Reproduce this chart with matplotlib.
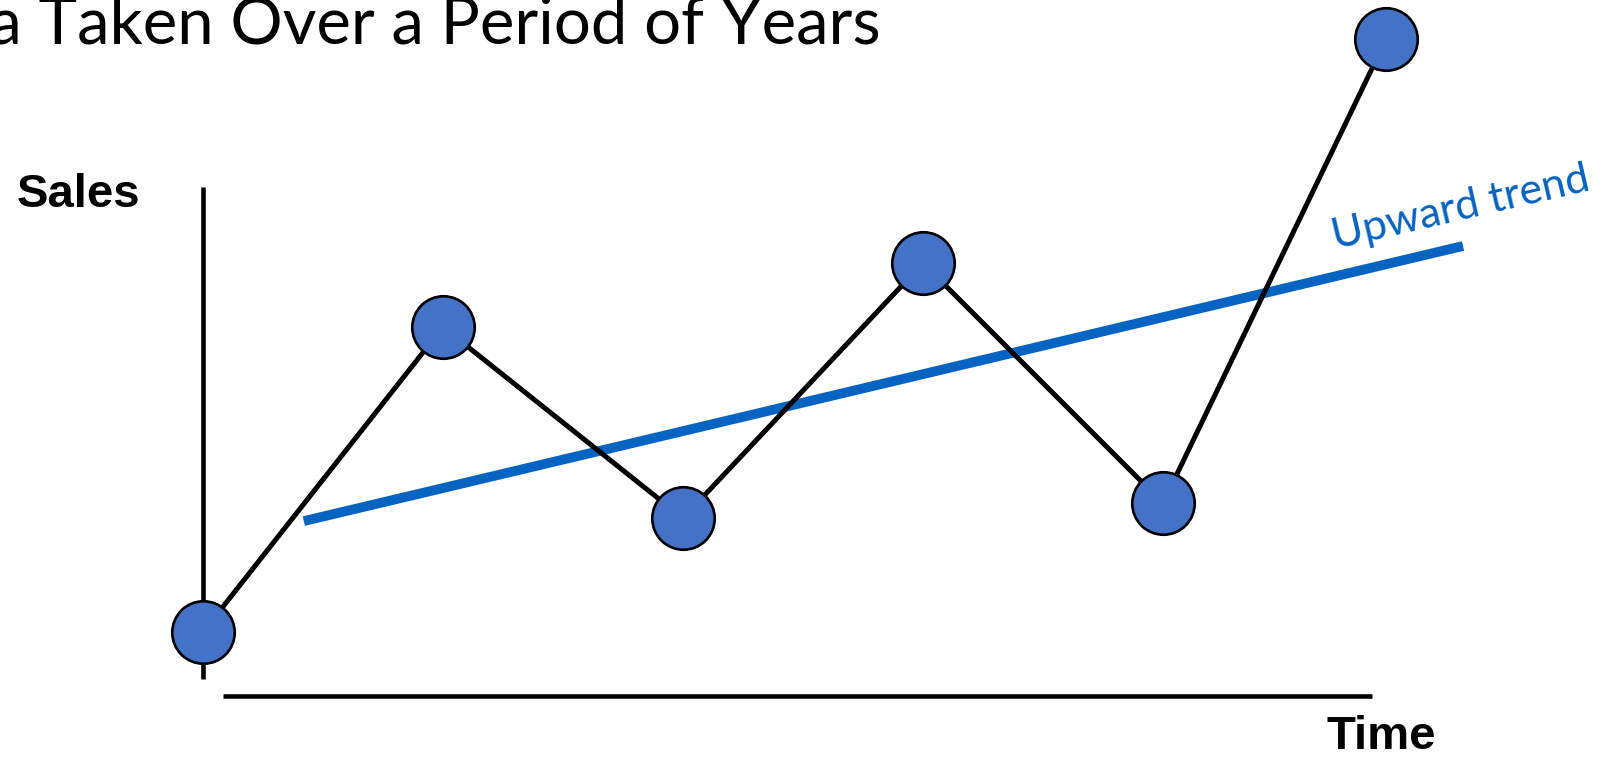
import matplotlib
matplotlib.use("Agg")
import matplotlib.pyplot as plt

# Sales observed at successive points in time
time = [0, 1, 2, 3, 4, 4.93]
sales = [2.13, 12.3, 5.93, 14.43, 6.43, 21.9]

# Straight line summarising the upward trend (start and end points)
trend_time = [0.42, 5.25]
trend_sales = [5.83, 15.0]

title_text = "Data Taken Over a Period of Years"
x_label = "Time"
y_label = "Sales"
trend_label = "Upward trend"

W, H = 1606, 757
DPI = 100
fig = plt.figure(figsize=(W / DPI, H / DPI), dpi=DPI)
fig.patch.set_facecolor("white")

ax = fig.add_axes([0, 0, 1, 1])
ax.set_axis_off()
# one time step = 240 px, one sales unit = 30 px; origin at (203, 696) px
x0, y0, sx, sy = 203, 696, 240.0, 30.0
ax.set_xlim(-x0 / sx, (W - x0) / sx)
ax.set_ylim((y0 - H) / sy, y0 / sy)


def fig_xy(px, py):
    return px / W, 1 - py / H


# hand-drawn style axes
ax.plot([0, 0], [(y0 - 679) / sy, (y0 - 187) / sy], color="black", lw=3.3,
        solid_capstyle="butt", zorder=1)
ax.plot([(223 - x0) / sx, (1372 - x0) / sx], [0, 0], color="black", lw=3.3,
        solid_capstyle="butt", zorder=1)

blue = "#0563C1"
ax.plot(trend_time, trend_sales, color=blue, lw=7.0, solid_capstyle="butt", zorder=2)

ax.plot(time, sales, color="black", lw=3.6, zorder=3)
ax.plot(time, sales, linestyle="none", marker="o", markersize=45,
        markerfacecolor="#4472C4", markeredgecolor="black", markeredgewidth=1.9,
        zorder=4)

fig.text(*fig_xy(17, 207), y_label, family="Liberation Sans", weight="bold",
         fontsize=34, ha="left", va="baseline", color="black")
fig.text(*fig_xy(1327, 749), x_label, family="Liberation Sans", weight="bold",
         fontsize=34, ha="left", va="baseline", color="black")
fig.text(*fig_xy(881, 43), title_text, family="Lato", fontsize=47,
         ha="right", va="baseline", color="black")
fig.text(*fig_xy(1335, 249), trend_label, family="Lato", fontsize=31,
         ha="left", va="baseline", color=blue, rotation=13.0,
         rotation_mode="anchor")

fig.savefig("out.png", dpi=DPI, facecolor="white")
